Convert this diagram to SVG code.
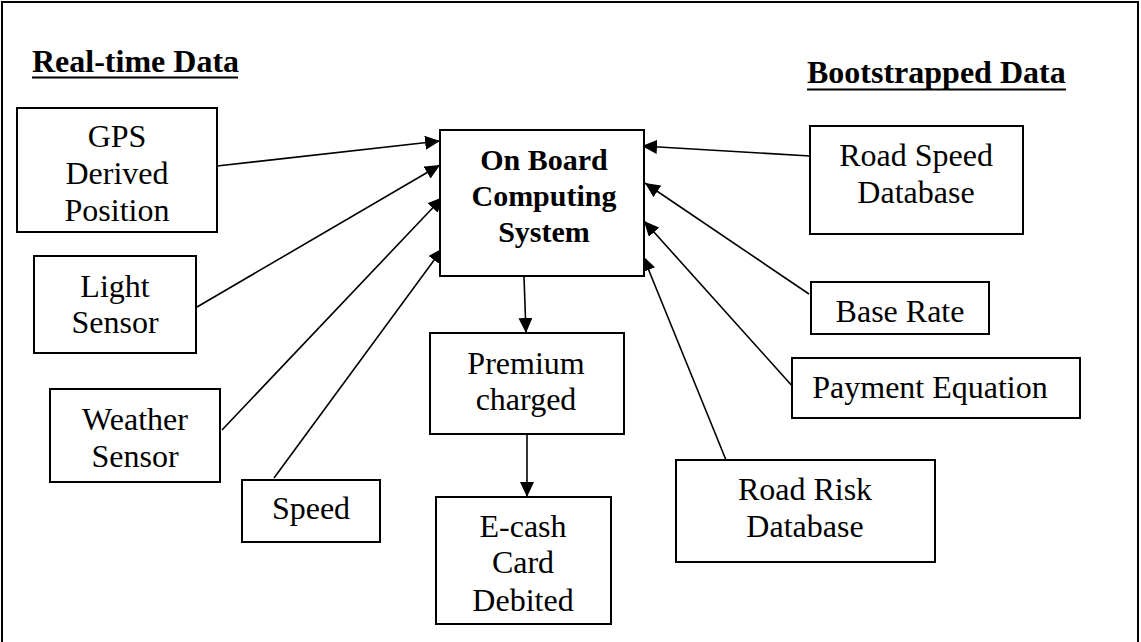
<svg xmlns="http://www.w3.org/2000/svg" width="1141" height="642" viewBox="0 0 1141 642">
<style>
.box{fill:#fff;stroke:#000;stroke-width:2}
.t{font-family:"Liberation Serif","Times New Roman",serif;font-size:32px;text-anchor:middle;fill:#000}
.b{font-weight:bold;font-size:30px}
.h{font-family:"Liberation Serif","Times New Roman",serif;font-size:32px;font-weight:bold;fill:#000}
.c{stroke:#000;stroke-width:1.6;fill:none;marker-end:url(#ah)}
</style>
<defs>
<marker id="ah" markerUnits="userSpaceOnUse" markerWidth="16" markerHeight="14" refX="15" refY="7" orient="auto">
<path d="M0,0 L15,7 L0,14 z" fill="#000"/>
</marker>
</defs>
<rect width="1141" height="642" fill="#fff"/>
<path d="M2,645 V2 H1138 V645" fill="none" stroke="#000" stroke-width="2"/>
<g id="title-realtime">
<text class="h" x="32" y="72">Real-time Data</text>
<line x1="32" y1="77.5" x2="238" y2="77.5" stroke="#000" stroke-width="2"/>
</g>
<g id="title-bootstrapped">
<text class="h" x="807" y="83">Bootstrapped Data</text>
<line x1="807" y1="89.5" x2="1066" y2="89.5" stroke="#000" stroke-width="2"/>
</g>
<g id="connectors">
<line class="c" x1="217" y1="166" x2="440" y2="141"/>
<line class="c" x1="197" y1="307" x2="440" y2="165"/>
<line class="c" x1="222" y1="430" x2="443" y2="197"/>
<line class="c" x1="274" y1="478" x2="443" y2="248"/>
<line class="c" x1="810" y1="156" x2="642" y2="146"/>
<line class="c" x1="809" y1="294" x2="645" y2="183"/>
<line class="c" x1="794" y1="388" x2="644" y2="221"/>
<line class="c" x1="726" y1="460" x2="643" y2="256"/>
<line class="c" x1="524" y1="277" x2="526" y2="333"/>
<line class="c" x1="527" y1="434" x2="527" y2="497"/>
</g>
<g id="gps">
<rect class="box" x="17" y="108" width="200" height="124"/>
<text class="t" x="117" y="147">GPS</text>
<text class="t" x="117" y="184">Derived</text>
<text class="t" x="117" y="221">Position</text>
</g>
<g id="light">
<rect class="box" x="34" y="256" width="162" height="97"/>
<text class="t" x="115" y="297">Light</text>
<text class="t" x="115" y="333">Sensor</text>
</g>
<g id="weather">
<rect class="box" x="50" y="389" width="170" height="93"/>
<text class="t" x="135" y="430">Weather</text>
<text class="t" x="135" y="467">Sensor</text>
</g>
<g id="speed">
<rect class="box" x="242" y="480" width="138" height="62"/>
<text class="t" x="311" y="519">Speed</text>
</g>
<g id="obc">
<rect class="box" x="440" y="130" width="204" height="146"/>
<text class="t b" x="544" y="170">On Board</text>
<text class="t b" x="544" y="206">Computing</text>
<text class="t b" x="544" y="242">System</text>
</g>
<g id="premium">
<rect class="box" x="430" y="333" width="194" height="101"/>
<text class="t" x="526" y="374">Premium</text>
<text class="t" x="526" y="410">charged</text>
</g>
<g id="ecash">
<rect class="box" x="436" y="497" width="175" height="127"/>
<text class="t" x="523" y="537">E-cash</text>
<text class="t" x="523" y="573">Card</text>
<text class="t" x="523" y="611">Debited</text>
</g>
<g id="roadspeed">
<rect class="box" x="810" y="126" width="213" height="108"/>
<text class="t" x="916" y="166">Road Speed</text>
<text class="t" x="916" y="203">Database</text>
</g>
<g id="baserate">
<rect class="box" x="811" y="282" width="178" height="52"/>
<text class="t" x="900" y="322">Base Rate</text>
</g>
<g id="payment">
<rect class="box" x="792" y="358" width="288" height="60"/>
<text class="t" x="930" y="398">Payment Equation</text>
</g>
<g id="roadrisk">
<rect class="box" x="676" y="460" width="259" height="102"/>
<text class="t" x="805" y="500">Road Risk</text>
<text class="t" x="805" y="537">Database</text>
</g>
</svg>
